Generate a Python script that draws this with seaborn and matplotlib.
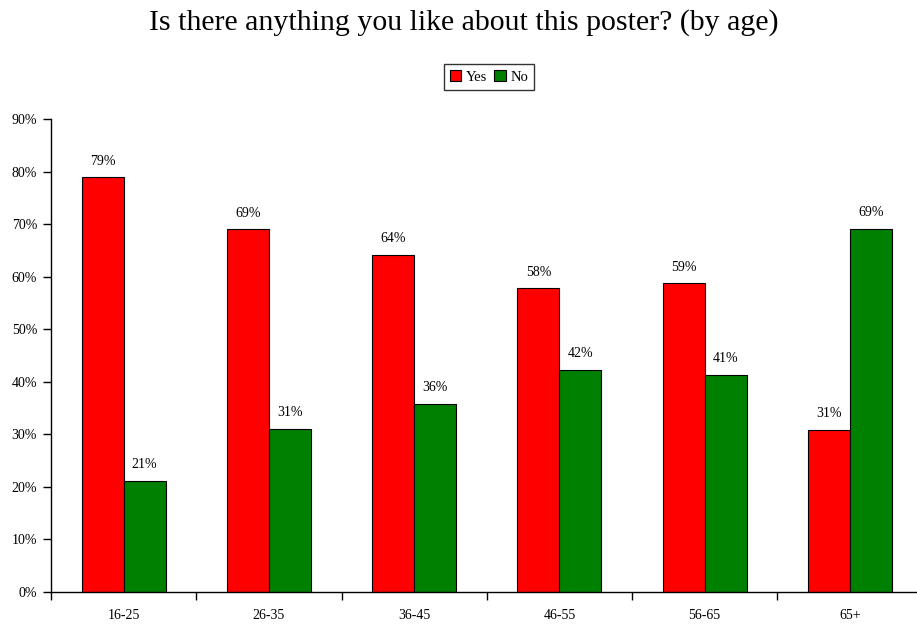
import matplotlib
matplotlib.use("Agg")
import matplotlib.pyplot as plt
import seaborn as sns
import pandas as pd
import numpy as np
from matplotlib.patches import Patch

categories = ["16-25", "26-35", "36-45", "46-55", "56-65", "65+"]
yes_vals = [78.9, 69.0, 64.2, 57.8, 58.7, 30.9]
no_vals = [21.1, 31.0, 35.8, 42.2, 41.3, 69.1]
series = ["Yes", "No"]
colors = {"Yes": "#ff0000", "No": "#008000"}

df = pd.DataFrame({
    "age": categories * 2,
    "value": yes_vals + no_vals,
    "answer": ["Yes"] * len(categories) + ["No"] * len(categories),
})

sns.set_theme(style="white", rc={"text.color": "black", "xtick.color": "black",
                                 "ytick.color": "black", "axes.labelcolor": "black"})
plt.rcParams["font.family"] = ["Liberation Serif", "DejaVu Serif"]

fig = plt.figure(figsize=(9.17, 6.24), dpi=100)
ax = fig.add_axes([51 / 917, 1 - 592 / 624, 1 - 51 / 917 + 0.006, (592 - 119) / 624])

sns.barplot(data=df, x="age", y="value", hue="answer", hue_order=series,
            palette=colors, width=0.58, edgecolor="black", linewidth=0.8,
            saturation=1, ax=ax, legend=False)

for cont in ax.containers:
    ax.bar_label(cont, labels=[f"{v:.0f}%" for v in cont.datavalues],
                 padding=7, fontsize=10, color="black")

ax.set_ylim(0, 90)
ax.set_xlim(-0.5, len(categories) - 0.5)
ax.set_yticks(np.arange(0, 91, 10))
ax.set_yticklabels([f"{t}%" for t in range(0, 91, 10)], fontsize=10, color="black")
ax.set_xticks(range(len(categories)))
ax.set_xticklabels(categories, fontsize=10, color="black")
ax.tick_params(axis="x", which="major", length=0, pad=12, bottom=True)
ax.set_xticks(np.arange(-0.5, len(categories), 1.0), minor=True)
ax.tick_params(axis="x", which="minor", length=6, width=1, color="black",
               direction="out", bottom=True)
ax.tick_params(axis="y", length=6, width=1, color="black", direction="out", left=True, pad=4)
ax.set_xlabel("")
ax.set_ylabel("")
for s in ["top", "right"]:
    ax.spines[s].set_visible(False)
for s in ["left", "bottom"]:
    ax.spines[s].set_color("black")
    ax.spines[s].set_linewidth(1)

handles = [Patch(facecolor=colors[s], edgecolor="black", linewidth=0.8, label=s) for s in series]
leg = fig.legend(handles=handles, loc="center", bbox_to_anchor=(489 / 917, 1 - 77 / 624),
                 ncol=2, frameon=True, fontsize=10.5, handlelength=0.8, handleheight=0.8,
                 handletextpad=0.3, columnspacing=0.5, borderpad=0.4, fancybox=False)
leg.get_frame().set_edgecolor("black")
leg.get_frame().set_linewidth(1)
for t in leg.get_texts():
    t.set_color("black")

fig.suptitle("Is there anything you like about this poster? (by age)", x=464 / 917,
             y=1 - 23 / 624, va="center", fontsize=21.5, color="black")

fig.savefig("out.png", dpi=100)
